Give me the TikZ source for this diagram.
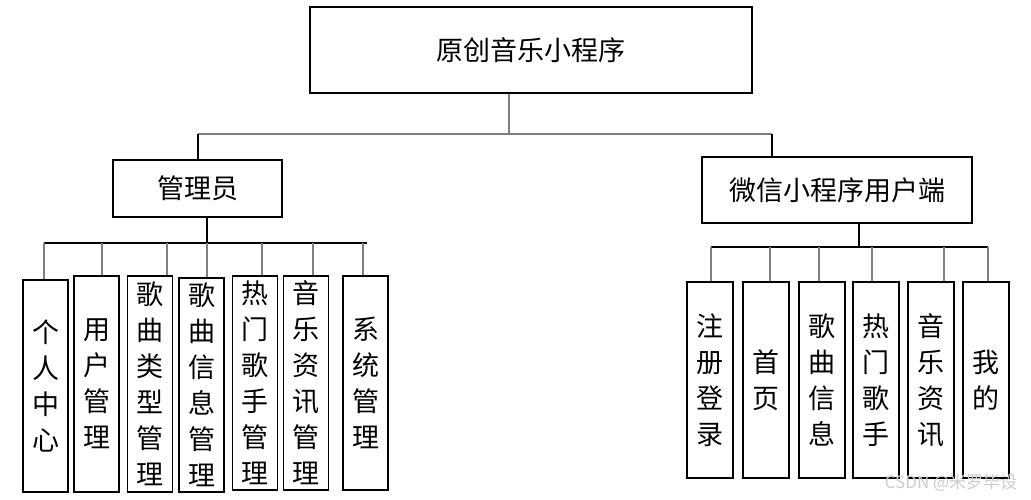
\documentclass[tikz,border=0pt]{standalone}
\usepackage{fontspec}
\newfontfamily\cjk{Noto Sans CJK SC}
\usepackage{tikz}
\usetikzlibrary{positioning,calc}

\begin{document}
\begin{tikzpicture}[x=1pt, y=-1pt,
    box/.style={draw, line width=1.6pt, inner sep=0pt, align=center, font=\cjk\fontsize{27}{36}\selectfont},
    link/.style={line width=1.2pt, gray},
    stem/.style={line width=1.3pt, black}]
    \useasboundingbox (0,0) rectangle (1031,500);
    \node[box, minimum width=442pt, minimum height=86pt] (root) at (531,50) {原创音乐小程序};
    \node[box, minimum width=169pt, minimum height=57pt] (admin) at (197.5,188.5) {管理员};
    \node[box, minimum width=270pt, minimum height=66pt] (wx) at (837,190) {微信小程序用户端};
    \coordinate (top) at (509,134);
    \coordinate (lj) at (198,134);
    \coordinate (rj) at (772,134);
    \draw[link] (root.south -| top) -- (top);
    \draw[link] (lj) -- (rj);
    \draw[stem] (lj) -- (admin.north -| lj);
    \draw[stem] (rj) -- (wx.north -| rj);
    \coordinate (abus) at (207,243);
    \coordinate (al) at (44,243);
    \coordinate (ar) at (367,243);
    \draw[stem] (admin.south -| abus) -- (abus);
    \draw[stem] (al) -- (ar);
    \foreach \i/\cx/\cy/\h/\dx/\t in {1/45.5/386/212/44/{个\\人\\中\\心},
        2/96.5/384/216/102/{用\\户\\管\\理},
        3/150/384/216/167/{歌\\曲\\类\\型\\管\\理},
        4/201.5/385/214/207/{歌\\曲\\信\\息\\管\\理},
        5/255/383/214/262/{热\\门\\歌\\手\\管\\理},
        6/306/383/214/313/{音\\乐\\资\\讯\\管\\理},
        7/365.5/383/214/363/{系\\统\\管\\理}} {
        \node[box, minimum width=45pt, minimum height=\h pt] (a\i) at (\cx,\cy) {\t};
        \draw[link] (\dx,243) -- (a\i.north -| \dx,0);
    }
    \coordinate (ubus) at (859,247);
    \coordinate (ul) at (711,247);
    \coordinate (ur) at (988,247);
    \draw[stem] (wx.south -| ubus) -- (ubus);
    \draw[stem] (ul) -- (ur);
    \foreach \i/\cx/\dx/\t in {1/710/711/{注\\册\\登\\录},
        2/766/770/{首\\页},
        3/822/819/{歌\\曲\\信\\息},
        4/876/872/{热\\门\\歌\\手},
        5/931/944/{音\\乐\\资\\讯},
        6/986/988/{我\\的}} {
        \node[box, minimum width=46pt, minimum height=196pt] (u\i) at (\cx,380) {\t};
        \draw[link] (\dx,247) -- (u\i.north -| \dx,0);
    }
    \node[font=\cjk\fontsize{17}{17}\selectfont, text=gray!40] (mark) at (951,483) {CSDN @米罗毕设};
\end{tikzpicture}
\end{document}
